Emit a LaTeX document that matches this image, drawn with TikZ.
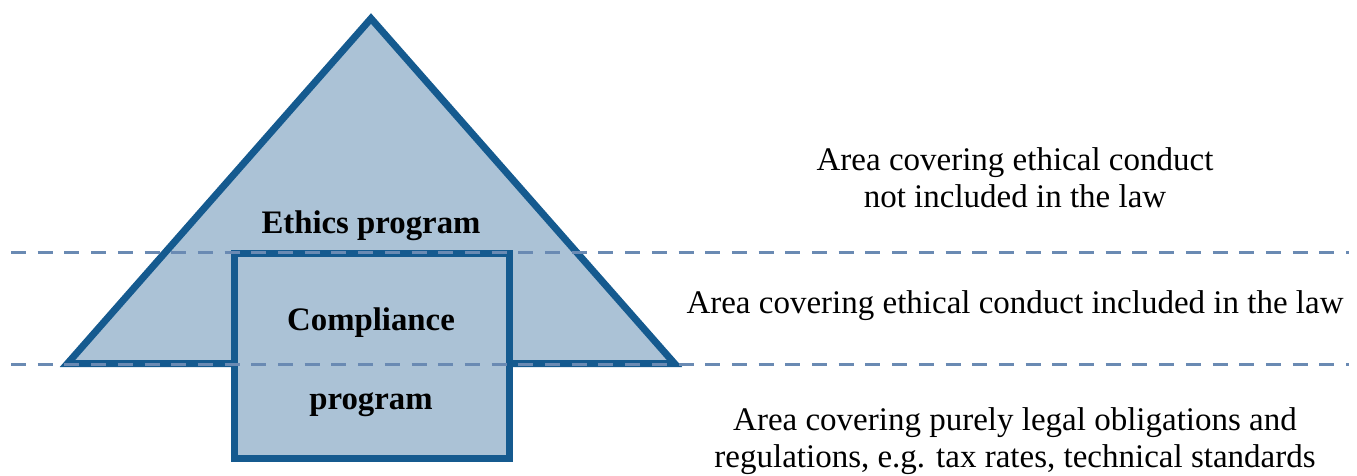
\documentclass[tikz,border=0pt]{standalone}
\usepackage{fontspec}
\setmainfont{Liberation Serif}
\begin{document}
\begin{tikzpicture}[x=1pt,y=-1pt,
  shapefill/.style={fill=boxfill, draw=boxline, line width=7pt, line join=miter},
  levelline/.style={draw=dashblue, line width=3pt, dash pattern=on 15pt off 11.7pt},
  boxlabel/.style={font=\fontsize{32.8}{37}\selectfont\bfseries, inner sep=0pt, anchor=base},
  arealabel/.style={font=\fontsize{33}{37}\selectfont, align=center, inner sep=0pt}]
\definecolor{boxfill}{HTML}{ABC2D6}
\definecolor{boxline}{HTML}{155A8F}
\definecolor{dashblue}{HTML}{6A8AB3}
\useasboundingbox (0,0) rectangle (1357,475);

% ethics pyramid and compliance block
\coordinate (apex) at (371,18.5);
\coordinate (bl) at (67.5,363.5);
\coordinate (br) at (674.5,363.5);
\draw[shapefill] (apex) -- (br) -- (bl) -- cycle;
\draw[shapefill] (234.5,253) rectangle (509,458);

% level separators
\coordinate (d1l) at (11,252.3);
\coordinate (d1r) at (1349,252.3);
\coordinate (d2l) at (11,364.3);
\coordinate (d2r) at (1349,364.3);
\draw[levelline] (d1l) -- (d1r);
\draw[levelline] (d2l) -- (d2r);

% program labels
\node[boxlabel] (ethics) at (371,233) {Ethics program};
\node[boxlabel] (compl) at (371,330) {Compliance};
\node[boxlabel] (prog) at (371,409) {program};

% area descriptions
\node[arealabel] (top) at (1015,178) {Area covering ethical conduct\\not included in the law};
\node[arealabel] (mid) at (1015,306) {Area covering ethical conduct included in the law};
\node[arealabel] (bot) at (1015,441) {Area covering purely legal obligations and\\regulations, e.g. tax rates, technical standards};
\end{tikzpicture}
\end{document}
